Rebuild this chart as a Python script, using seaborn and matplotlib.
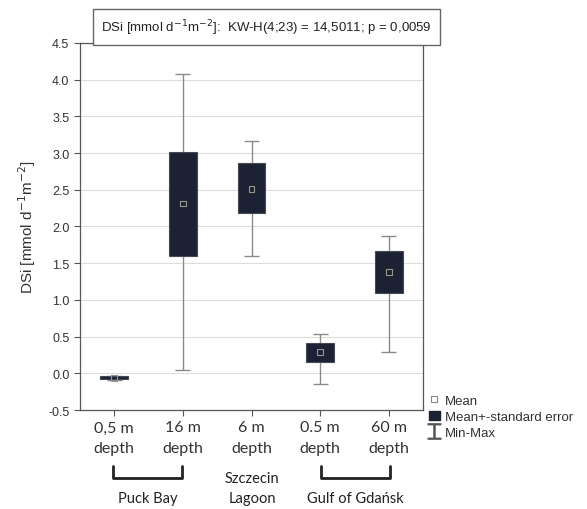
import numpy as np
import pandas as pd
import matplotlib
matplotlib.use("Agg")
import matplotlib.pyplot as plt
import seaborn as sns
from matplotlib.lines import Line2D
from matplotlib.patches import Patch

# values
sites = ["0,5 m\ndepth", "16 m\ndepth", "6 m\ndepth", "0.5 m\ndepth", "60 m\ndepth"]
means = [-0.06, 2.31, 2.51, 0.29, 1.38]
se_low = [-0.08, 1.60, 2.19, 0.16, 1.09]
se_high = [-0.04, 3.02, 2.86, 0.41, 1.67]
min_vals = [-0.09, 0.04, 1.60, -0.14, 0.29]
max_vals = [-0.03, 4.07, 3.17, 0.53, 1.87]
regions = ["Puck Bay", "Szczecin\nLagoon", "Gulf of Gdańsk"]

box_color = "#1c2233"
whisker_color = "#8a8a8a"

df = pd.DataFrame({"site": sites, "mean": means, "lo": se_low, "hi": se_high,
                   "mn": min_vals, "mx": max_vals})
df["span"] = df["hi"] - df["lo"]

sns.set_style("white")
plt.rcParams["font.family"] = ["Liberation Sans", "DejaVu Sans"]

fig = plt.figure(figsize=(5.87, 5.10), dpi=100)
ax = fig.add_axes([0.136, 0.194, 0.585, 0.720])

xpos = np.arange(len(sites))

# min-max whiskers behind the boxes
ax.vlines(xpos, df["mn"], df["mx"], color=whisker_color, lw=1.0, zorder=1)
ax.hlines(df["mn"], xpos - 0.11, xpos + 0.11, color=whisker_color, lw=1.0, zorder=1)
ax.hlines(df["mx"], xpos - 0.11, xpos + 0.11, color=whisker_color, lw=1.0, zorder=1)

# mean +- standard error boxes
sns.barplot(data=df, x="site", y="span", bottom=df["lo"].values, color=box_color,
            width=0.4, saturation=1, edgecolor="#444a55", linewidth=0.8,
            ax=ax, zorder=2)

# mean markers
sns.scatterplot(x=xpos, y=df["mean"], marker="s", s=16, facecolor="none",
                edgecolor="#8f9a88", linewidth=0.8, ax=ax, zorder=3)

ax.set_xlim(-0.5, 4.5)
ax.set_ylim(-0.5, 4.5)
ax.set_yticks(np.arange(-0.5, 4.51, 0.5))
ax.set_yticklabels([f"{v:.1f}" for v in np.arange(-0.5, 4.51, 0.5)], fontsize=9, color="#333333")
ax.set_xticks(xpos)
ax.set_xticklabels(sites, fontsize=11.5, family=["Lato", "DejaVu Sans"], color="#333333",
                   linespacing=1.55)
ax.set_xlabel("")
ax.set_ylabel("DSi [mmol d$^{-1}$m$^{-2}$]", fontsize=11, color="#333333", labelpad=7)
ax.grid(axis="y", color="#dddddd", lw=0.8)
ax.set_axisbelow(True)
ax.tick_params(axis="both", which="both", length=4, width=0.8, color="#555555",
               direction="out", bottom=True, left=True)
for s in ax.spines.values():
    s.set_color("#555555")
    s.set_linewidth(0.9)

# title box
fig.text(0.454, 0.945, "DSi [mmol d$^{-1}$m$^{-2}$]:  KW-H(4;23) = 14,5011; p = 0,0059",
         ha="center", va="center", fontsize=9.5, color="#222222",
         bbox=dict(boxstyle="square,pad=0.6", facecolor="white", edgecolor="#666666", lw=1.0))

# region brackets under the x axis
def bracket(x0, x1, y_top=0.084, y_bot=0.060):
    fig.add_artist(Line2D([x0, x0, x1, x1], [y_top, y_bot, y_bot, y_top],
                          transform=fig.transFigure, color="#222222", lw=2))

bracket(113 / 587, 182 / 587)
bracket(321 / 587, 390 / 587)
region_x = [148 / 587, 252 / 587, 355 / 587]
for rx, name in zip(region_x, regions):
    fig.text(rx, 0.008, name, ha="center", va="bottom", fontsize=10.5,
             family=["Lato", "DejaVu Sans"], color="#222222", linespacing=1.5)

# legend outside on the right
h_mean = Line2D([], [], marker="s", ls="none", markersize=4, markerfacecolor="white",
                markeredgecolor="#888888", markeredgewidth=0.8)
h_se = Patch(facecolor=box_color, edgecolor=box_color)
h_mm = Line2D([], [], marker="$\u2336$", ls="none", markersize=11, color="#555555")
fig.legend([h_mean, h_se, h_mm], ["Mean", "Mean+-standard error", "Min-Max"],
           loc="upper left", bbox_to_anchor=(0.722, 0.235), frameon=False,
           fontsize=9.5, handlelength=0.8, handletextpad=0.4, labelspacing=0.3,
           borderaxespad=0, labelcolor="#333333")

fig.savefig("out.png", dpi=100)
